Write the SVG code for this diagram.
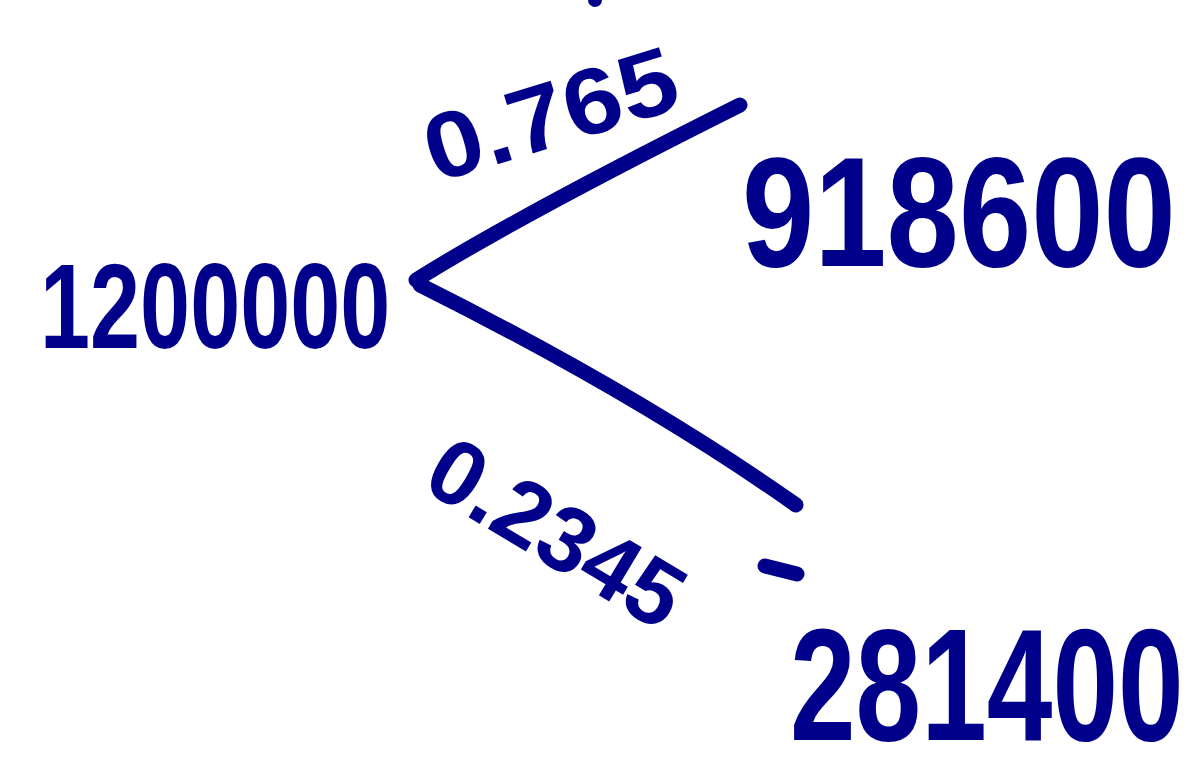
<svg xmlns="http://www.w3.org/2000/svg" width="1204" height="784" viewBox="0 0 1204 784">
<style>
.t{font-family:"Liberation Sans","DejaVu Sans",sans-serif;font-weight:bold;fill:#00008B}
.l{fill:none;stroke:#00008B;stroke-width:15;stroke-linecap:round}
</style>
<rect width="1204" height="784" fill="#fff"/>
<g id="connectors">
<path class="l" d="M416 280 Q520 215 740 105"/>
<path class="l" d="M420 285 Q640 395 796 505"/>
</g>
<g id="root"><text class="t" font-size="90" transform="translate(40,348) scale(1,1.33)">1200000</text></g>
<g id="p-upper"><text class="t" font-size="104" text-anchor="middle" transform="translate(560,145) rotate(-17) scale(1,0.9)">0.765</text></g>
<g id="upper"><text class="t" font-size="130" transform="translate(742,266) scale(1,1.2)">918600</text></g>
<g id="p-lower"><text class="t" font-size="92" text-anchor="middle" transform="translate(540,560) rotate(31)">0.2345</text>
<path class="l" d="M765 566 L797 574"/></g>
<g id="lower"><text class="t" font-size="118" transform="translate(790,740) scale(1,1.35)">281400</text></g>
<g id="mark"><circle cx="595" cy="0" r="7" fill="#00008B"/></g>
</svg>
